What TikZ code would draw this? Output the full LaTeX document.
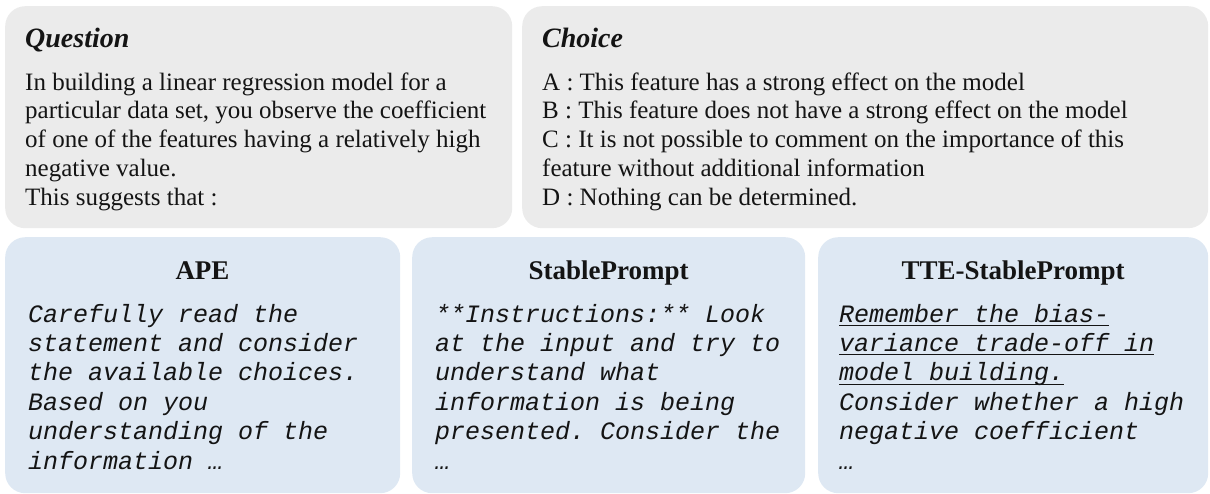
\documentclass[tikz,border=0pt]{standalone}
\usepackage{fontspec}
\setmainfont{Liberation Serif}
\setmonofont{Liberation Mono}
\definecolor{boxgray}{RGB}{235,235,235}
\definecolor{boxblue}{RGB}{222,232,243}
\definecolor{ink}{RGB}{20,20,20}
\newcommand\myul[1]{\leavevmode\setbox0\hbox{#1}\rlap{\rule[-4pt]{\wd0}{1.1pt}}\box0}
\newcommand\lines[1]{\parbox[t]{640pt}{\raggedright #1}}
\begin{document}
\begin{tikzpicture}[x=1pt,y=-1pt,
  graybox/.style={fill=boxgray, rounded corners=20pt, draw=none, inner sep=0pt, anchor=north west},
  bluebox/.style={fill=boxblue, rounded corners=20pt, draw=none, inner sep=0pt, anchor=north west},
  head/.style={font=\fontsize{28}{32}\selectfont\bfseries\itshape, anchor=base west, inner sep=0pt, text=ink},
  title/.style={font=\fontsize{27}{32}\selectfont\bfseries, anchor=base, inner sep=0pt, text=ink},
  body/.style={anchor=base west, inner sep=0pt, text=ink, font=\fontsize{25}{28.75}\selectfont},
  mono/.style={anchor=base west, inner sep=0pt, text=ink, font=\fontsize{25}{29.4}\selectfont\ttfamily\itshape},
]
\useasboundingbox (0,0) rectangle (1210,493);
% top boxes
\node[graybox, minimum width=507pt, minimum height=222pt] (qbox) at (5,6) {};
\node[graybox, minimum width=686pt, minimum height=222pt] (cbox) at (522,6) {};
% bottom boxes
\node[bluebox, minimum width=395pt, minimum height=256pt] (apebox) at (5,237) {};
\node[bluebox, minimum width=393pt, minimum height=256pt] (spbox) at (412,237) {};
\node[bluebox, minimum width=390pt, minimum height=256pt] (ttebox) at (818,237) {};

% question
\node[head] (qhead) at (25,47) {Question};
\node[body] (qtext) at (25,90) {\lines{In building a linear regression model for a\\
particular data set, you observe the coefficient\\
of one of the features having a relatively high\\
negative value.\\
This suggests that :}};

% choice
\node[head] (chead) at (542,47) {Choice};
\node[body] (ctext) at (542,90) {\lines{A : This feature has a strong effect on the model\\
B : This feature does not have a strong effect on the model\\
C : It is not possible to comment on the importance of this\\
feature without additional information\\
D : Nothing can be determined.}};

% APE
\node[title] (apehead) at (202.5,279) {APE};
\node[mono] (apetext) at (28,322) {\lines{Carefully read the\\
statement and consider\\
the available choices.\\
Based on you\\
understanding of the\\
information …}};

% StablePrompt
\node[title] (sphead) at (608.5,279) {StablePrompt};
\node[mono] (sptext) at (435,322) {\lines{**Instructions:** Look\\
at the input and try to\\
understand what\\
information is being\\
presented. Consider the\\
…}};

% TTE-StablePrompt
\node[title] (ttehead) at (1013,279) {TTE-StablePrompt};
\node[mono] (ttetext) at (839,322) {\lines{\myul{Remember the bias-}\\
\myul{variance trade-off in}\\
\myul{model building.}\\
Consider whether a high\\
negative coefficient\\
…}};
\end{tikzpicture}
\end{document}
